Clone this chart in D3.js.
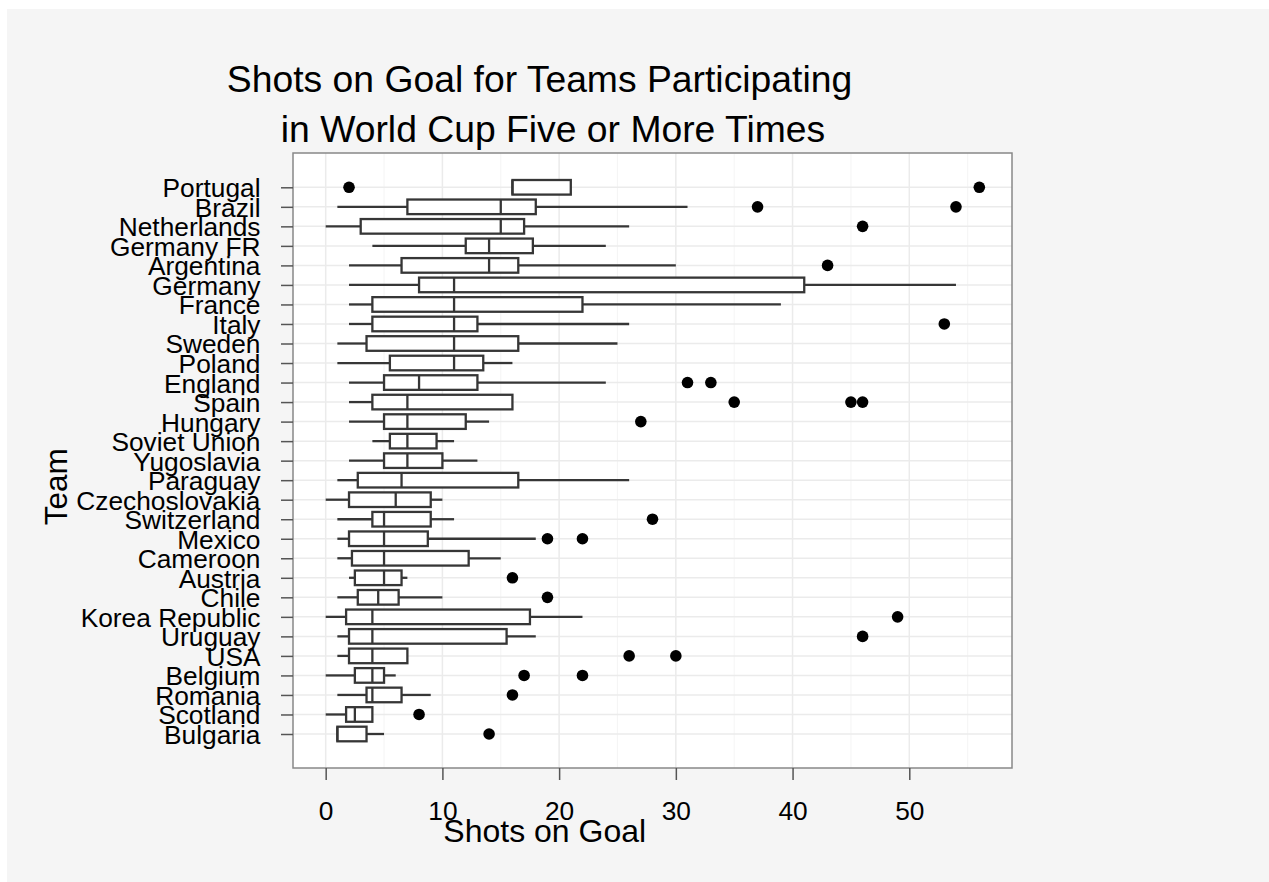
<!DOCTYPE html>
<html>
<head>
<meta charset="utf-8">
<script src="https://cdn.jsdelivr.net/npm/d3@7"></script>
<style>
  body { margin: 0; overflow: hidden; background: #fff; }
  svg text { font-family: "Liberation Sans", Arial, sans-serif; fill: #000; }
</style>
</head>
<body>
<svg id="chart" width="1269" height="882"></svg>
<script>
// teams, ordered by median (top to bottom)
const teams = ["Portugal", "Brazil", "Netherlands", "Germany FR", "Argentina", "Germany",
  "France", "Italy", "Sweden", "Poland", "England", "Spain", "Hungary", "Soviet Union",
  "Yugoslavia", "Paraguay", "Czechoslovakia", "Switzerland", "Mexico", "Cameroon",
  "Austria", "Chile", "Korea Republic", "Uruguay", "USA", "Belgium", "Romania",
  "Scotland", "Bulgaria"];

const lows    = [16, 1, 0, 4, 2, 2, 2, 2, 1, 1, 2, 2, 2, 4, 2, 1, 0, 1, 1, 1, 2, 1, 0, 1, 1, 0, 1, 0, 1];
const q1s     = [16, 7, 3, 12, 6.5, 8, 4, 4, 3.5, 5.5, 5, 4, 5, 5.5, 5, 2.75, 2, 4, 2, 2.25, 2.5, 2.75, 1.75, 2, 2, 2.5, 3.5, 1.75, 1];
const medians = [16, 15, 15, 14, 14, 11, 11, 11, 11, 11, 8, 7, 7, 7, 7, 6.5, 6, 5, 5, 5, 5, 4.5, 4, 4, 4, 4, 4, 2.5, 1];
const q3s     = [21, 18, 17, 17.75, 16.5, 41, 22, 13, 16.5, 13.5, 13, 16, 12, 9.5, 10, 16.5, 9, 9, 8.75, 12.25, 6.5, 6.25, 17.5, 15.5, 7, 5, 6.5, 4, 3.5];
const highs   = [21, 31, 26, 24, 30, 54, 39, 26, 25, 16, 24, 16, 14, 11, 13, 26, 10, 11, 18, 15, 7, 10, 22, 18, 7, 6, 9, 4, 5];
const outliers = [[2, 56], [37, 54], [46], [], [43], [], [], [53], [], [], [31, 33], [35, 45, 46],
  [27], [], [], [], [], [28], [19, 22], [], [16], [19], [49], [46], [26, 30], [17, 22], [16], [8], [14]];

const xTicks = [0, 10, 20, 30, 40, 50];
const xMinor = [5, 15, 25, 35, 45, 55];

const svg = d3.select("#chart");
const panel = { left: 293, right: 1012, top: 153, bottom: 768 };

// page background
svg.append("rect")
  .attr("x", 7).attr("y", 9)
  .attr("width", 1269).attr("height", 882)
  .attr("fill", "#f5f5f5");

const x = d3.scaleLinear().domain([-2.8, 58.8]).range([panel.left, panel.right]);
const y = d3.scalePoint().domain(teams).range([187.3, 734]);
const boxH = 14.6;

svg.append("rect")
  .attr("x", panel.left).attr("y", panel.top)
  .attr("width", panel.right - panel.left).attr("height", panel.bottom - panel.top)
  .attr("fill", "#fff");

// grid
const grid = svg.append("g");
grid.selectAll(".minor").data(xMinor).enter().append("line")
  .attr("x1", d => x(d)).attr("x2", d => x(d))
  .attr("y1", panel.top).attr("y2", panel.bottom)
  .attr("stroke", "#f3f3f3").attr("stroke-width", 0.9);
grid.selectAll(".major").data(xTicks).enter().append("line")
  .attr("x1", d => x(d)).attr("x2", d => x(d))
  .attr("y1", panel.top).attr("y2", panel.bottom)
  .attr("stroke", "#ebebeb").attr("stroke-width", 1.5);
grid.selectAll(".hmajor").data(teams).enter().append("line")
  .attr("x1", panel.left).attr("x2", panel.right)
  .attr("y1", d => y(d)).attr("y2", d => y(d))
  .attr("stroke", "#ebebeb").attr("stroke-width", 1.5);

// boxplots
const rows = teams.map((t, i) => ({
  team: t, lo: lows[i], q1: q1s[i], med: medians[i], q3: q3s[i], hi: highs[i], out: outliers[i]
}));
const stroke = "#363636", sw = 2.3;
const g = svg.append("g");

g.selectAll(".wlo").data(rows).enter().append("line")
  .attr("x1", d => x(d.lo)).attr("x2", d => x(d.q1))
  .attr("y1", d => y(d.team)).attr("y2", d => y(d.team))
  .attr("stroke", stroke).attr("stroke-width", sw);
g.selectAll(".whi").data(rows).enter().append("line")
  .attr("x1", d => x(d.q3)).attr("x2", d => x(d.hi))
  .attr("y1", d => y(d.team)).attr("y2", d => y(d.team))
  .attr("stroke", stroke).attr("stroke-width", sw);
g.selectAll(".box").data(rows).enter().append("rect")
  .attr("x", d => x(d.q1)).attr("width", d => x(d.q3) - x(d.q1))
  .attr("y", d => y(d.team) - boxH / 2).attr("height", boxH)
  .attr("fill", "#fff").attr("stroke", stroke).attr("stroke-width", sw);
g.selectAll(".med").data(rows).enter().append("line")
  .attr("x1", d => x(d.med)).attr("x2", d => x(d.med))
  .attr("y1", d => y(d.team) - boxH / 2).attr("y2", d => y(d.team) + boxH / 2)
  .attr("stroke", stroke).attr("stroke-width", sw);

const outPts = rows.flatMap(d => d.out.map(v => ({ team: d.team, v: v })));
g.selectAll(".out").data(outPts).enter().append("circle")
  .attr("cx", d => x(d.v)).attr("cy", d => y(d.team))
  .attr("r", 5.8).attr("fill", "#000");

// panel border
svg.append("rect")
  .attr("x", panel.left).attr("y", panel.top)
  .attr("width", panel.right - panel.left).attr("height", panel.bottom - panel.top)
  .attr("fill", "none").attr("stroke", "#888").attr("stroke-width", 1.5);

// axes
const yAxis = svg.append("g")
  .attr("transform", `translate(${panel.left},0)`)
  .call(d3.axisLeft(y).tickSize(12).tickPadding(20.5));
const xAxis = svg.append("g")
  .attr("transform", `translate(0,${panel.bottom})`)
  .call(d3.axisBottom(x).tickValues(xTicks).tickSize(12).tickPadding(21));
[yAxis, xAxis].forEach(a => {
  a.select(".domain").remove();
  a.selectAll(".tick line").attr("stroke", "#555").attr("stroke-width", 1.5);
  a.selectAll(".tick text").attr("font-size", 26.3).attr("fill", "#000")
    .style("font-family", "'Liberation Sans', Arial, sans-serif");
});
yAxis.selectAll(".tick text").attr("dy", "0.36em");

// titles
svg.append("text").attr("x", 539.5).attr("y", 91.7)
  .attr("text-anchor", "middle").attr("font-size", 37.3)
  .text("Shots on Goal for Teams Participating");
svg.append("text").attr("x", 553).attr("y", 141.7)
  .attr("text-anchor", "middle").attr("font-size", 37.3)
  .text("in World Cup Five or More Times");
svg.append("text").attr("x", 544.7).attr("y", 841.7)
  .attr("text-anchor", "middle").attr("font-size", 32)
  .text("Shots on Goal");
svg.append("text")
  .attr("transform", "translate(67.3,486.7) rotate(-90)")
  .attr("text-anchor", "middle").attr("font-size", 31.5)
  .text("Team");
</script>
</body>
</html>
